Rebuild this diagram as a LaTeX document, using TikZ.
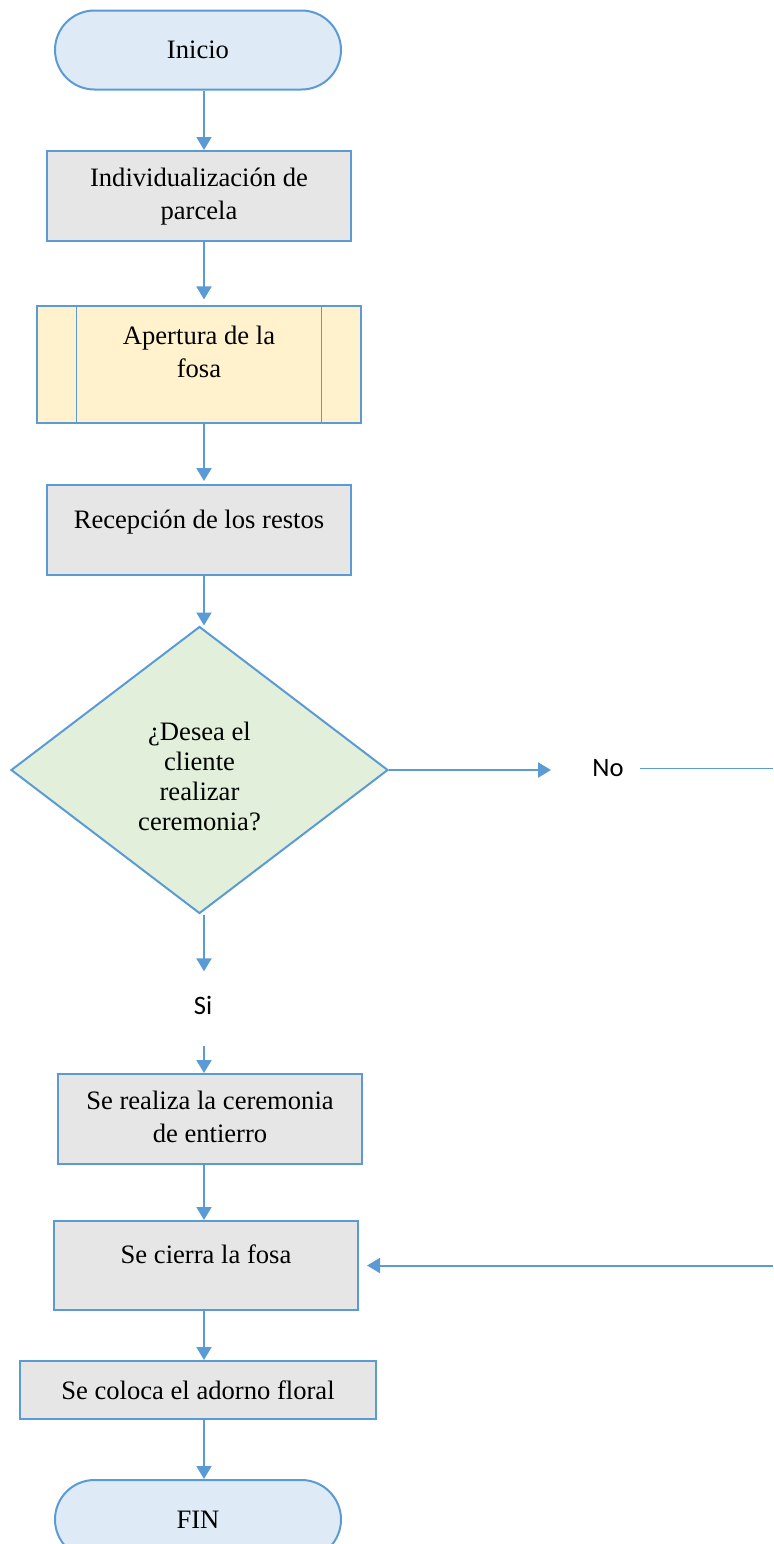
\documentclass[tikz,border=0pt]{standalone}
\usepackage{fontspec}
\setmainfont{Liberation Serif}
\newfontfamily\calibfont{Carlito}
\usetikzlibrary{shapes.geometric,arrows.meta}
\definecolor{bl}{HTML}{5B9BD5}
\definecolor{grayfill}{HTML}{E6E6E6}
\definecolor{termfill}{HTML}{DEEAF6}
\definecolor{yelfill}{HTML}{FFF2CC}
\definecolor{decfill}{HTML}{E2EFDA}
\newcommand\mlines[1]{\begin{tabular}{@{}c@{}}#1\end{tabular}}
\tikzset{
  base/.style={draw=bl, line width=1pt, inner sep=0pt, font=\fontsize{13.3}{16.5}\selectfont},
  term/.style={base, fill=termfill, rounded corners=19.75pt, minimum width=143pt, minimum height=39.5pt},
  proc/.style={base, fill=grayfill, minimum width=152pt, minimum height=45pt},
  pre/.style={base, line width=0.6pt, fill=yelfill, minimum width=162pt, minimum height=58.5pt},
  preline/.style={draw=bl, line width=0.6pt},
  dec/.style={base, diamond, fill=decfill, minimum width=188.5pt, minimum height=143.5pt, font=\fontsize{13.3}{15}\selectfont},
  lab/.style={inner sep=0pt, font=\calibfont\fontsize{13.3}{16}\selectfont},
  arr/.style={draw=bl, line width=1pt, -{Triangle[length=6.5pt,width=7.5pt]}},
  thinline/.style={draw=bl, line width=0.5pt},
  up/.style={text height=7pt, text depth=9pt}
}
\begin{document}
\begin{tikzpicture}[x=0.5pt,y=-0.5pt]
\useasboundingbox (0,0) rectangle (773,1544);
\clip (0,0) rectangle (773,1544);
\coordinate (c) at (204,0);
\node[term] (ini) at (198,50) {Inicio};
\node[proc] (p1) at (199,196) {\mlines{Individualización de\\parcela}};
\node[pre, text height=15pt, text depth=18.4pt] (p2) at (199,364.5) {\mlines{Apertura de la\\fosa}};
\draw[preline] ([xshift=20pt]p2.north west) -- ([xshift=20pt]p2.south west);
\draw[preline] ([xshift=-20pt]p2.north east) -- ([xshift=-20pt]p2.south east);
\node[proc, up] (p3) at (199,530) {Recepción de los restos};
\node[dec, text height=38.3pt, text depth=21.7pt] (d) at (199.5,770) {\mlines{¿Desea el\\cliente\\realizar\\ceremonia?}};
\node[lab] (no) at (608,768) {No};
\coordinate (rA) at (773,768);
\coordinate (rB) at (773,1265.5);
\node[lab] (si) at (203,1005) {Si};
\node[proc] (p4) at (210,1119) {\mlines{Se realiza la ceremonia\\de entierro}};
\node[proc, up, minimum height=44.5pt] (p5) at (206,1265.5) {Se cierra la fosa};
\node[proc, minimum width=178pt, minimum height=29pt] (p6) at (198,1390) {Se coloca el adorno floral};
\node[term] (fin) at (198,1519.5) {FIN};

\draw[arr] (ini.south -| c) -- (p1.north -| c);
\draw[arr, shorten >=3pt] (p1.south -| c) -- (p2.north -| c);
\draw[arr, shorten >=1.5pt] (p2.south -| c) -- (p3.north -| c);
\draw[arr] (p3.south -| c) -- (d.north -| c);
\draw[arr, line width=1.2pt, shorten >=20.5pt] (d.east) -- (d.east -| no.west);
\draw[thinline, shorten <=8pt] (no.east) -- (rA);
\draw[arr, shorten >=4pt] (rB) -- (p5.east);
\draw[arr, shorten >=12pt] (d.south -| c) -- (si.north -| c);
\draw[arr, shorten <=15.5pt] (si.south -| c) -- (p4.north -| c);
\draw[arr] (p4.south -| c) -- (p5.north -| c);
\draw[arr] (p5.south -| c) -- (p6.north -| c);
\draw[arr] (p6.south -| c) -- (fin.north -| c);
\end{tikzpicture}
\end{document}
